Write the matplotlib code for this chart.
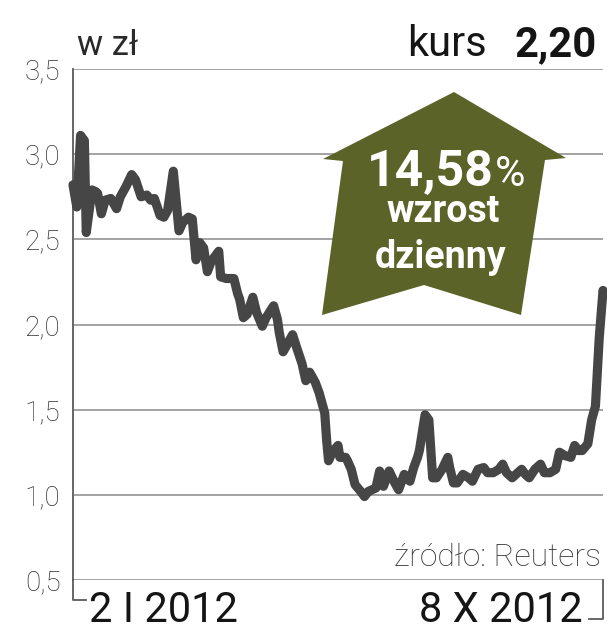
import matplotlib
matplotlib.use("Agg")
import matplotlib.pyplot as plt
import numpy as np
import pandas as pd
from matplotlib.lines import Line2D
from matplotlib.patches import Polygon

# ---------------- data ----------------
start_date = "2012-01-02"
end_date = "2012-10-08"
day_offsets = [0, 2, 4, 6, 7, 10, 12, 13, 15, 17, 20, 23, 25, 28, 31, 33, 36, 39, 41, 43,
               46, 48, 50, 53, 56, 58, 61, 63, 65, 67, 69, 71, 73, 77, 78, 81, 85, 87, 88, 90,
               92, 95, 97, 100, 102, 106, 108, 109, 111, 114, 116, 118, 121, 123, 125, 128, 130, 133, 134, 135,
               137, 140, 141, 144, 145, 147, 149, 152, 154, 156, 158, 160, 162, 164, 167, 170, 172, 175, 178, 180,
               182, 183, 186, 188, 190, 192, 195, 198, 199, 201, 203, 206, 209, 211, 214, 217, 219, 222, 225, 227,
               229, 232, 235, 237, 239, 241, 244, 247, 249, 252, 255, 257, 260, 263, 265, 267, 269, 272, 274, 276,
               278, 280]
prices = [2.82, 2.69, 3.11, 3.08, 2.54, 2.79, 2.78, 2.77, 2.65, 2.73, 2.74, 2.68, 2.75, 2.81, 2.88, 2.85, 2.75, 2.76, 2.73, 2.74,
          2.64, 2.63, 2.67, 2.90, 2.55, 2.60, 2.63, 2.62, 2.38, 2.48, 2.45, 2.31, 2.37, 2.43, 2.28, 2.27, 2.27, 2.18, 2.15, 2.04,
          2.06, 2.16, 2.07, 1.99, 2.04, 2.11, 2.03, 1.95, 1.84, 1.90, 1.94, 1.87, 1.77, 1.67, 1.72, 1.66, 1.60, 1.48, 1.32, 1.20,
          1.25, 1.29, 1.22, 1.22, 1.20, 1.15, 1.06, 1.02, 0.99, 1.02, 1.03, 1.04, 1.14, 1.05, 1.14, 1.07, 1.03, 1.12, 1.08, 1.16,
          1.22, 1.26, 1.47, 1.44, 1.10, 1.10, 1.15, 1.22, 1.16, 1.07, 1.07, 1.12, 1.10, 1.08, 1.15, 1.16, 1.13, 1.13, 1.15, 1.18,
          1.13, 1.10, 1.13, 1.15, 1.12, 1.10, 1.15, 1.18, 1.13, 1.13, 1.15, 1.25, 1.23, 1.22, 1.29, 1.26, 1.26, 1.30, 1.44, 1.52,
          1.92, 2.20]
y_ticks = [0.5, 1.0, 1.5, 2.0, 2.5, 3.0, 3.5]
y_tick_labels = ["0,5", "1,0", "1,5", "2,0", "2,5", "3,0", "3,5"]
unit_label = "w zł"
price_label = "kurs"
price_value = "2,20"
change_value = "14,58"
change_word1 = "wzrost"
change_word2 = "dzienny"
source_label = "źródło: Reuters"
start_label = "2 I 2012"
end_label = "8 X 2012"

# ---------------- figure ----------------
W, H = 607, 640
fig = plt.figure(figsize=(W / 100, H / 100), dpi=100)
fig.patch.set_facecolor("white")

def fx(x):
    return x / W

def fy(y):
    return 1 - y / H

ax_left, ax_right, ax_top, ax_bottom = 73, 603, 69, 580
ax = fig.add_axes([fx(ax_left), fy(ax_bottom), (ax_right - ax_left) / W, (ax_bottom - ax_top) / H])
ax.set_facecolor("none")

dates = pd.Timestamp(start_date) + pd.to_timedelta(day_offsets, unit="D")
ax.set_xlim(pd.Timestamp(start_date), pd.Timestamp(end_date))
ax.set_ylim(0.5, 3.5)

for s in ["top", "right", "bottom"]:
    ax.spines[s].set_visible(False)
ax.spines["left"].set_color("#5a5a5a")
ax.spines["left"].set_linewidth(1.3)

ax.set_xticks([])
ax.set_yticks(y_ticks)
ax.set_yticklabels(y_tick_labels, fontfamily="Roboto", fontweight="light", fontsize=20, color="#2e2e2e")
ax.tick_params(axis="y", length=0, pad=9)
ax.yaxis.grid(True, color="#9c9c9c", linewidth=1.3)
ax.set_axisbelow(True)

ax.plot(dates, prices, color="#464646", linewidth=6.6, solid_joinstyle="round",
        solid_capstyle="round", clip_on=False, zorder=3)

# ---------------- brackets at bottom ----------------
lc = "#5a5a5a"
fig.add_artist(Line2D([fx(73), fx(73), fx(86)], [fy(580), fy(600), fy(600)], color=lc, lw=1.3))
fig.add_artist(Line2D([fx(603), fx(603), fx(589)], [fy(580), fy(619), fy(619)], color=lc, lw=1.3))

# ---------------- arrow ----------------
arrow_pts = [(454, 92), (566, 158), (545, 160), (521, 315), (424, 285), (322, 315), (343, 161), (323, 159)]
arrow = Polygon([(fx(x), fy(y)) for x, y in arrow_pts], closed=True, transform=fig.transFigure,
                facecolor="#5b6328", edgecolor="none", zorder=5)
fig.add_artist(arrow)

fig.text(fx(494), fy(186), change_value, fontfamily="Roboto", fontweight="bold", fontsize=36,
         color="white", ha="right", va="baseline", zorder=6)
fig.text(fx(495), fy(186), "%", fontfamily="Roboto", fontweight="normal", fontsize=30,
         color="white", ha="left", va="baseline", zorder=6)
fig.text(fx(443), fy(222), change_word1, fontfamily="Roboto", fontweight="bold", fontsize=27,
         color="white", ha="center", va="baseline", zorder=6)
fig.text(fx(441), fy(268), change_word2, fontfamily="Roboto", fontweight="bold", fontsize=27,
         color="white", ha="center", va="baseline", zorder=6)

# ---------------- header texts ----------------
fig.text(fx(77), fy(55), unit_label, fontfamily="Roboto", fontweight="normal", fontsize=25,
         color="#2a2a2a", ha="left", va="baseline")
fig.text(fx(597), fy(56), price_value, fontfamily="Roboto", fontweight="bold", fontsize=30,
         color="#151515", ha="right", va="baseline")
fig.text(fx(487), fy(56), price_label, fontfamily="Roboto", fontweight="normal", fontsize=30,
         color="#151515", ha="right", va="baseline")

# ---------------- source & date labels ----------------
fig.text(fx(601), fy(566), source_label, fontfamily="Roboto", fontweight="light", fontsize=23,
         color="#333333", ha="right", va="baseline")
fig.text(fx(89), fy(622), start_label, fontfamily="Roboto", fontweight="normal", fontsize=30,
         color="#151515", ha="left", va="baseline")
fig.text(fx(583), fy(622), end_label, fontfamily="Roboto", fontweight="normal", fontsize=30,
         color="#151515", ha="right", va="baseline")

fig.savefig("out.png", dpi=100, facecolor="white")
